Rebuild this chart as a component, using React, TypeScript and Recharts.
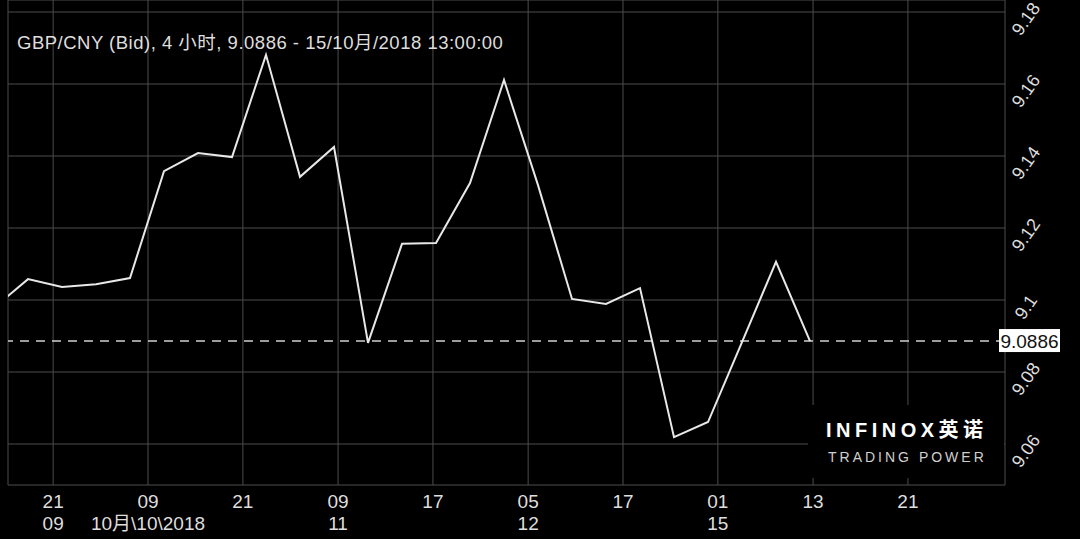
import { LineChart, Line, XAxis, YAxis, CartesianGrid, ReferenceLine } from 'recharts'

// 4h bars, bar 0 = first full bar on screen (bar -1 is cut off by the left edge)
const barNo = [-1, 0, 1, 2, 3, 4, 5, 6, 7, 8, 9, 10, 11, 12, 13, 14, 15, 16, 17, 18, 19, 20, 21, 22, 23]
const bid = [
  9.0978, 9.1058, 9.1036, 9.1044, 9.1061, 9.1358, 9.1408, 9.1397, 9.1681, 9.1342,
  9.1425, 9.0881, 9.1156, 9.1158, 9.1325, 9.1611, 9.1319, 9.1003, 9.0989, 9.1033,
  9.0619, 9.0661, 9.0883, 9.1106, 9.0886,
]

const xTickPos = [0.74, 3.53, 6.32, 9.12, 11.91, 14.71, 17.5, 20.29, 23.09, 25.88]
const xTickHour = ['21', '09', '21', '09', '17', '05', '17', '01', '13', '21']
const xTickDay = ['09', '10月\\10\\2018', '', '11', '', '12', '', '15', '', '']

const yTicks = [9.06, 9.08, 9.1, 9.12, 9.14, 9.16, 9.18]
const lastPrice = 9.0886
const title = 'GBP/CNY (Bid), 4 小时, 9.0886 - 15/10月/2018 13:00:00'

const rows = barNo.map((k, i) => ({ k, bid: bid[i] }))

const FONT = "'Liberation Sans', Arial, 'Noto Sans CJK SC', sans-serif"
const TXT = '#dedede'

function XTick(props: any) {
  const { x, y, index } = props
  return (
    <g>
      <text x={x} y={y + 23} textAnchor="middle" fontSize={19} fill={TXT} fontFamily={FONT}>
        {xTickHour[index]}
      </text>
      {xTickDay[index] ? (
        <text x={x} y={y + 45} textAnchor="middle" fontSize={19} fill={TXT} fontFamily={FONT}>
          {xTickDay[index]}
        </text>
      ) : null}
    </g>
  )
}

function YTick(props: any) {
  const { y, payload } = props
  const cx = 1026
  const cy = y + 7
  const label = String(Number(payload.value.toFixed(2)))
  return (
    <text
      x={cx}
      y={cy}
      textAnchor="middle"
      dominantBaseline="central"
      fontSize={18}
      fill={TXT}
      fontFamily={FONT}
      transform={`rotate(-55 ${cx} ${cy})`}
    >
      {label}
    </text>
  )
}

function PriceTag(props: any) {
  const vb = props.viewBox || {}
  const right = vb.x + vb.width
  const y = vb.y
  return (
    <g>
      <rect x={right - 6} y={y - 12} width={61} height={23} fill="#ffffff" />
      <text x={right + 24.5} y={y} textAnchor="middle" dominantBaseline="central" fontSize={19} fill="#111" fontFamily={FONT}>
        {lastPrice.toFixed(4)}
      </text>
    </g>
  )
}

export default function App() {
  return (
    <div style={{ position: 'absolute', left: 0, top: 0, width: 1080, height: 539, background: '#000', overflow: 'hidden' }}>
      <LineChart width={1080} height={539} data={rows} margin={{ top: 0, right: 0, left: 8, bottom: 0 }}>
        <CartesianGrid stroke="#4c4c4c" strokeWidth={1} />
        <XAxis
          dataKey="k"
          type="number"
          domain={[-0.588, 28.735]}
          allowDataOverflow
          ticks={xTickPos}
          interval={0}
          height={54}
          tickSize={0}
          tickMargin={0}
          axisLine={false}
          tickLine={false}
          tick={<XTick />}
        />
        <YAxis
          orientation="right"
          type="number"
          domain={[9.04861, 9.18333]}
          allowDataOverflow
          ticks={yTicks}
          width={75}
          axisLine={false}
          tickLine={false}
          tick={<YTick />}
        />
        <ReferenceLine
          y={lastPrice}
          stroke="#cfcfcf"
          strokeWidth={1.5}
          strokeDasharray="9 7"
          label={<PriceTag />}
        />
        <Line
          type="linear"
          dataKey="bid"
          stroke="#e8e8e8"
          strokeWidth={2}
          dot={false}
          isAnimationActive={false}
        />
      </LineChart>
      <svg width={1080} height={539} style={{ position: 'absolute', left: 0, top: 0, pointerEvents: 'none' }}>
        <text x={17} y={49} fontSize={18.5} letterSpacing={0.5} fill={TXT} fontFamily={FONT}>
          {title}
        </text>
        <rect x={808} y={405} width={196} height={73} fill="#000" />
        <text x={826} y={437} fontSize={20} fontWeight={600} letterSpacing={4.5} fill="#ffffff" fontFamily={FONT}>
          INFINOX英诺
        </text>
        <text x={828} y={462} fontSize={14} letterSpacing={3} fill="#cfcfcf" fontFamily={FONT}>
          TRADING POWER
        </text>
      </svg>
    </div>
  )
}
